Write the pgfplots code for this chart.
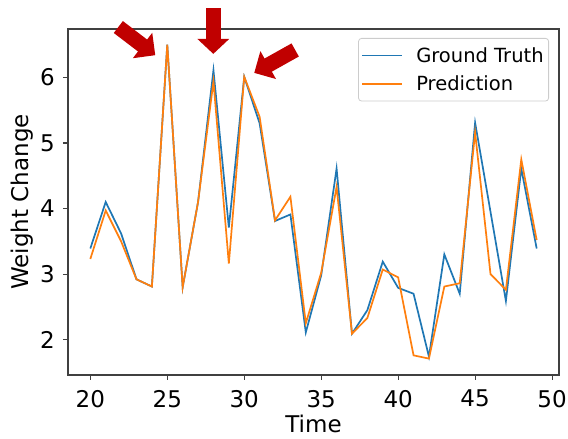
\documentclass[border=0pt]{standalone}
\usepackage{fontspec}
\setmainfont{DejaVu Sans}
\usepackage{pgfplots}
\pgfplotsset{compat=1.18}
\usetikzlibrary{arrows.meta}
\definecolor{mplblue}{HTML}{1F77B4}
\definecolor{mplorange}{HTML}{FF7F0E}
\definecolor{arrowred}{HTML}{C00000}

\begin{document}
\begin{tikzpicture}
\begin{axis}[
  at={(0pt,0pt)}, anchor=south west,
  scale only axis, width=491pt, height=346pt,
  xmin=18.55, xmax=50.45, ymin=1.46, ymax=6.74,
  xtick={20,25,...,50}, ytick={2,3,4,5,6},
  tick align=outside, tick pos=left, major tick length=5pt,
  axis line style={black!75, line width=1.1pt},
  every tick/.style={black!75, line width=1.1pt},
  /pgf/number format/assume math mode=true,
  ticklabel style={font=\fontsize{23}{27}\selectfont},
  xticklabel style={anchor=north, inner sep=0pt, yshift=-10pt},
  yticklabel style={anchor=east, inner sep=0pt, xshift=-8pt},
  xlabel={Time}, ylabel={Weight Change},
  label style={font=\fontsize{23}{27}\selectfont},
  xlabel style={at={(axis description cs:0.5,0)}, anchor=north, inner sep=0pt, yshift=-40pt},
  ylabel style={at={(axis description cs:0,0.5)}, anchor=south, inner sep=0pt, yshift=35pt},
  clip=false,
  legend cell align=left,
  legend style={at={(1,1)}, anchor=north east, xshift=-10pt, yshift=-9pt,
    draw=black!20, line width=0.8pt, rounded corners=3pt, fill=white,
    font=\fontsize{19.5}{23}\selectfont, inner xsep=3pt, inner ysep=7pt,
    row sep=8pt, column sep=11pt},
  legend image code/.code={\draw[#1, line width=1.7pt] (0pt,0pt) -- (40pt,0pt);},
  every axis plot/.append style={line width=1.7pt},
]
\addplot[mplblue] coordinates {
  (20,3.39) (21,4.10) (22,3.62) (23,2.92) (24,2.81) (25,6.50) (26,2.80) (27,4.10)
  (28,6.11) (29,3.71) (30,6.01) (31,5.30) (32,3.81) (33,3.91) (34,2.11) (35,2.98)
  (36,4.61) (37,2.09) (38,2.45) (39,3.19) (40,2.79) (41,2.70) (42,1.74) (43,3.30)
  (44,2.70) (45,5.31) (46,3.95) (47,2.59) (48,4.61) (49,3.39)};
\addlegendentry{Ground Truth}
\addplot[mplorange] coordinates {
  (20,3.23) (21,3.97) (22,3.50) (23,2.92) (24,2.81) (25,6.50) (26,2.80) (27,4.10)
  (28,5.94) (29,3.16) (30,6.01) (31,5.40) (32,3.82) (33,4.18) (34,2.25) (35,3.02)
  (36,4.33) (37,2.09) (38,2.33) (39,3.07) (40,2.95) (41,1.76) (42,1.71) (43,2.81)
  (44,2.86) (45,5.16) (46,3.00) (47,2.76) (48,4.75) (49,3.52)};
\addlegendentry{Prediction}
% annotation arrows pointing at the peaks
\draw[arrowred, line width=15pt, -{Triangle[length=16pt, width=31pt]}]
  (axis cs:21.82,6.77) -- (axis cs:24.22,6.34);
\draw[arrowred, line width=15pt, -{Triangle[length=15pt, width=31pt]}]
  (axis cs:27.99,7.06) -- (axis cs:27.99,6.36);
\draw[arrowred, line width=15pt, -{Triangle[length=16pt, width=31pt]}]
  (axis cs:33.31,6.42) -- (axis cs:30.65,6.07);
\end{axis}
\path[use as bounding box] (-68pt,-64pt) rectangle (500pt,375pt);
\end{tikzpicture}
\end{document}
